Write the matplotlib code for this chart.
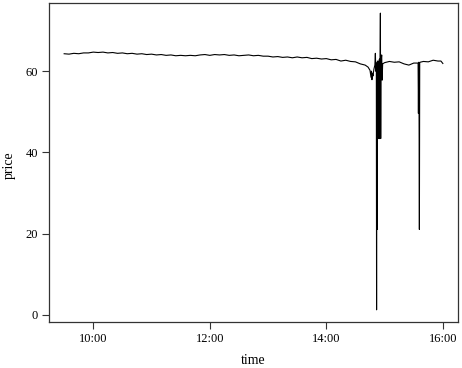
import matplotlib
matplotlib.use("Agg")
import matplotlib.pyplot as plt

# intraday trade prices (time as HH:MM:SS, price)
times = [
    "09:30:00", "09:35:00", "09:40:00", "09:45:00", "09:50:00", "09:55:00",
    "10:00:00", "10:05:00", "10:10:00", "10:15:00", "10:20:00", "10:25:00",
    "10:30:00", "10:35:00", "10:40:00", "10:45:00", "10:50:00", "10:55:00",
    "11:00:00", "11:05:00", "11:10:00", "11:15:00", "11:20:00", "11:25:00",
    "11:30:00", "11:35:00", "11:40:00", "11:45:00", "11:50:00", "11:55:00",
    "12:00:00", "12:05:00", "12:10:00", "12:15:00", "12:20:00", "12:25:00",
    "12:30:00", "12:35:00", "12:40:00", "12:45:00", "12:50:00", "12:55:00",
    "13:00:00", "13:05:00", "13:10:00", "13:15:00", "13:20:00", "13:25:00",
    "13:30:00", "13:35:00", "13:40:00", "13:45:00", "13:50:00", "13:55:00",
    "14:00:00", "14:05:00", "14:10:00", "14:15:00", "14:20:00", "14:25:00",
    "14:30:00", "14:35:00", "14:40:00", "14:43:00", "14:45:00", "14:46:00",
    "14:46:30", "14:47:00", "14:47:30", "14:48:00", "14:49:00", "14:50:00",
    "14:50:30", "14:51:00", "14:51:30", "14:51:45", "14:52:00", "14:52:20",
    "14:52:40", "14:53:00", "14:53:20", "14:53:40", "14:54:00", "14:54:20",
    "14:54:40", "14:55:00", "14:55:20", "14:55:40", "14:56:00", "14:56:20",
    "14:57:00", "14:57:30", "14:58:00", "15:00:00", "15:05:00", "15:10:00",
    "15:15:00", "15:20:00", "15:25:00", "15:30:00", "15:34:30", "15:34:50",
    "15:35:10", "15:35:30", "15:35:50", "15:36:10", "15:36:30", "15:40:00",
    "15:45:00", "15:50:00", "15:55:00", "15:58:00", "16:00:00",
]
prices = [
    64.3, 64.2, 64.4, 64.3, 64.5, 64.5,
    64.7, 64.6, 64.7, 64.5, 64.6, 64.4,
    64.5, 64.3, 64.4, 64.2, 64.3, 64.1,
    64.2, 64.0, 64.1, 63.9, 64.0, 63.8,
    63.9, 63.8, 63.9, 63.8, 64.0, 64.1,
    63.9, 64.1, 64.0, 64.1, 63.9, 64.0,
    63.8, 63.9, 64.0, 63.8, 63.9, 63.7,
    63.7, 63.5, 63.6, 63.4, 63.5, 63.3,
    63.5, 63.3, 63.4, 63.1, 63.2, 63.0,
    63.1, 62.8, 62.9, 62.5, 62.7, 62.4,
    62.3, 61.8, 61.5, 61.0, 60.2, 58.5,
    60.0, 57.9, 59.5, 58.8, 60.5, 61.5,
    64.4, 60.0, 62.0, 1.2, 62.0, 21.0,
    62.5, 43.4, 62.0, 43.4, 62.5, 43.4,
    63.0, 43.4, 62.0, 74.3, 43.4, 62.0,
    64.0, 57.8, 61.8, 62.1, 62.4, 62.2,
    62.3, 61.8, 61.5, 62.0, 62.0, 49.6,
    62.2, 49.6, 21.0, 62.1, 62.2, 62.4,
    62.3, 62.7, 62.5, 62.5, 61.9,
]


def to_hours(t):
    h, m, s = t.split(":")
    return int(h) + int(m) / 60 + int(s) / 3600


x = [to_hours(t) for t in times]

plt.rcParams['font.family'] = ['Liberation Serif', 'DejaVu Serif']

fig = plt.figure(figsize=(4.62, 3.68), dpi=100)
ax = fig.add_axes([49 / 462, 46 / 368, 409 / 462, 319 / 368])
ax.plot(x, prices, color='black', linewidth=0.8)

ax.set_xlim(9.24, 16.26)
ax.set_ylim(-1.8, 76.8)
ax.set_xticks([10, 12, 14, 16])
ax.set_xticklabels(["10:00", "12:00", "14:00", "16:00"])
ax.set_yticks([0, 20, 40, 60])
ax.tick_params(direction='out', length=5, width=0.8, color='#333333',
               labelsize=9, pad=3)
for sp in ax.spines.values():
    sp.set_color('#333333')
    sp.set_linewidth(0.9)

# axis titles placed like the R output
fig.text(253 / 462, 1 - 360 / 368, 'time', fontsize=10, ha='center', va='center')
fig.text(9 / 462, 1 - 165 / 368, 'price', fontsize=10, ha='center', va='center',
         rotation=90)

fig.savefig('out.png', dpi=100)
